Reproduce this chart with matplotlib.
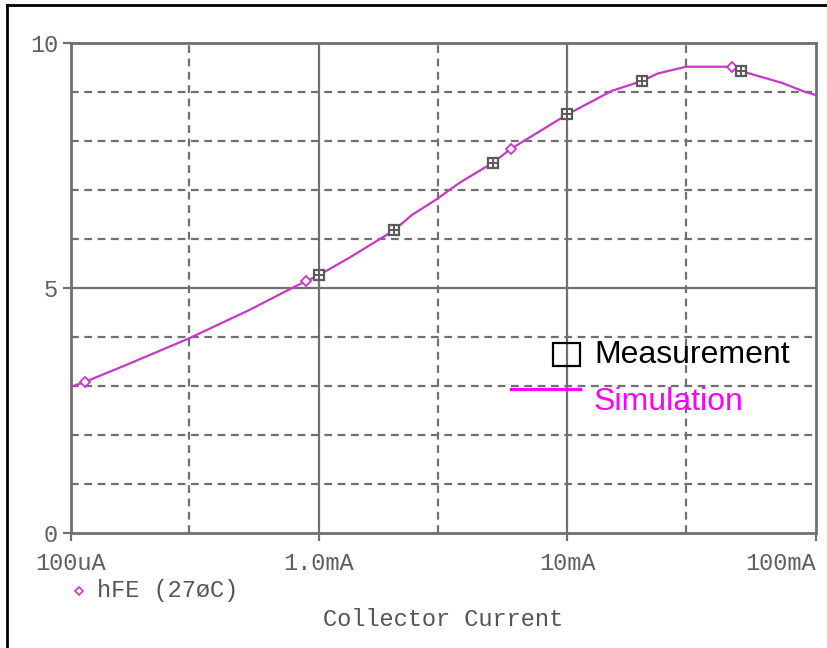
import matplotlib
matplotlib.use("Agg")
import matplotlib.pyplot as plt
from matplotlib.patches import Rectangle
from matplotlib.lines import Line2D

# ---- data (collector current in mA) ----
sim_current = [0.1, 0.114, 0.168, 0.3, 0.525, 0.81, 0.89, 1.0, 1.33, 2.0, 2.37, 2.96,
               3.67, 5.0, 5.9, 10.0, 15.1, 20.0, 23.0, 30.0, 46.0, 50.0, 73.0, 90.0, 100.0]
sim_hfe = [2.98, 3.08, 3.43, 3.97, 4.55, 5.04, 5.14, 5.26, 5.62, 6.17, 6.49, 6.80,
           7.14, 7.55, 7.83, 8.54, 9.02, 9.22, 9.37, 9.51, 9.51, 9.42, 9.18, 9.00, 8.93]
diamond_current = [0.114, 0.89, 5.9, 46.0]
diamond_hfe = [3.08, 5.14, 7.83, 9.51]
meas_current = [1.0, 2.0, 5.0, 10.0, 20.0, 50.0]
meas_hfe = [5.26, 6.17, 7.55, 8.54, 9.22, 9.42]
x_ticks = [0.1, 1.0, 10.0, 100.0]
x_ticklabels = ["100uA", "1.0mA", "10mA", "100mA"]
x_dashed = [0.3, 3.0, 30.0]
y_ticks = [0, 5, 10]
y_dashed = [1, 2, 3, 4, 6, 7, 8, 9]
trace_label = "hFE (27\u00f8C)"
xlabel = "Collector Current"

W, H = 828, 648
fig = plt.figure(figsize=(W / 100, H / 100), dpi=100)
fig.patch.set_facecolor("white")
L, R, T, B = 70.5, 816, 42.7, 533
ax = fig.add_axes([L / W, 1 - B / H, (R - L) / W, (B - T) / H])

gray = "#707070"
mono = "Liberation Mono"
trace_col = "#c838c8"

ax.set_xscale("log")
ax.set_xlim(0.1, 100)
ax.set_ylim(0, 10)

for v in x_dashed:
    ax.axvline(v, color=gray, lw=1.6, ls=(0, (3.5, 2.5)), zorder=1)
for v in y_dashed:
    ax.axhline(v, color=gray, lw=1.6, ls=(0, (3.5, 2.5)), zorder=1)
for v in [1.0, 10.0]:
    ax.axvline(v, color=gray, lw=1.6, zorder=1)
ax.axhline(5, color=gray, lw=1.6, zorder=1)

for s in ax.spines.values():
    s.set_color(gray)
    s.set_linewidth(2)

ax.set_xticks(x_ticks)
ax.set_xticklabels(x_ticklabels)
ax.xaxis.set_minor_locator(matplotlib.ticker.NullLocator())
ax.set_yticks(y_ticks)
ax.set_yticklabels([str(v) for v in y_ticks])
ax.tick_params(axis="both", which="major", direction="out", length=6, width=1.6,
               color=gray, labelcolor="#606060", labelsize=17)
for lab in ax.get_xticklabels() + ax.get_yticklabels():
    lab.set_family(mono)
xt = ax.get_xticklabels()
xt[-1].set_horizontalalignment("right")
ax.tick_params(axis="x", pad=8)
ax.tick_params(axis="y", pad=3)

# simulation trace
ax.plot(sim_current, sim_hfe, color=trace_col, lw=1.6, zorder=3)
ax.plot(diamond_current, diamond_hfe, ls="none", marker="D", ms=5.5, mfc="white",
        mec=trace_col, mew=1.3, zorder=4)
# measurement markers
ax.plot(meas_current, meas_hfe, ls="none", marker="s", ms=7.5, mfc="white",
        mec="#5a5a5a", mew=1.6, zorder=5)
ax.plot(meas_current, meas_hfe, ls="none", marker="+", ms=7.5, mec="#5a5a5a",
        mew=1.4, zorder=6)

# legend inside plot (added annotation)
fig.add_artist(Rectangle((553 / W, 1 - 365.5 / H), 27.5 / W, 22.5 / H, fill=False,
                         ec="black", lw=1.6, transform=fig.transFigure))
fig.text(594 / W, 1 - 363 / H, "Measurement", family="Liberation Sans", fontsize=23,
         color="black", va="baseline", ha="left")
fig.add_artist(Line2D([511 / W, 580.5 / W], [1 - 389.5 / H, 1 - 389.5 / H],
                      color="#ff00ff", lw=2.4, transform=fig.transFigure))
fig.text(594 / W, 1 - 410 / H, "Simulation", family="Liberation Sans", fontsize=23,
         color="#ff00ff", va="baseline", ha="left")

# trace legend under axis
fig.add_artist(Line2D([79 / W], [1 - 591 / H], ls="none", marker="D", ms=4.5,
                      mfc="white", mec=trace_col, mew=1.2, transform=fig.transFigure))
fig.text(97 / W, 1 - 591 / H, trace_label, family=mono, fontsize=17, color="#555555",
         va="center", ha="left")
fig.text(443 / W, 1 - 620 / H, xlabel, family=mono, fontsize=17, color="#555555",
         va="center", ha="center")

# outer border (left and top)
fig.add_artist(Line2D([7 / W, 7 / W], [0, 1 - 5 / H], color="black", lw=2,
                      transform=fig.transFigure))
fig.add_artist(Line2D([7 / W, 1], [1 - 5 / H, 1 - 5 / H], color="black", lw=2,
                      transform=fig.transFigure))

fig.savefig("out.png", dpi=100)
